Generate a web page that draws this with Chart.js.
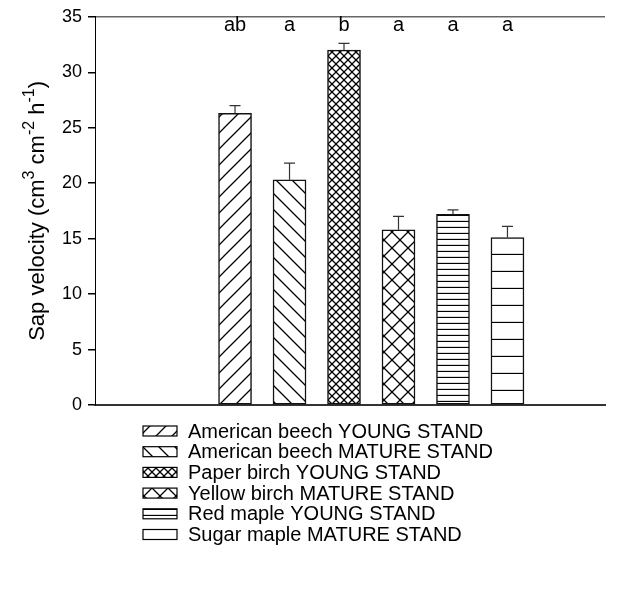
<!DOCTYPE html>
<html>
<head>
<meta charset="utf-8">
<script src="https://cdn.jsdelivr.net/npm/chart.js@4/dist/chart.umd.min.js"></script>
<style>
  html, body { margin: 0; padding: 0; background: #fff; }
  #wrap { width: 635px; height: 605px; position: relative; }
</style>
</head>
<body>
<div id="wrap"><canvas id="sapChart"></canvas></div>
<script>
// data
const species = [
  "American beech YOUNG STAND",
  "American beech MATURE STAND",
  "Paper birch YOUNG STAND",
  "Yellow birch MATURE STAND",
  "Red maple YOUNG STAND",
  "Sugar maple MATURE STAND"
];
const barPos = [1, 2, 3, 4, 5, 6];
const sapVelocity = [26.3, 20.3, 32.0, 15.8, 17.2, 15.1];
const stdErr = [0.7, 1.5, 0.6, 1.2, 0.4, 1.0];
const letters = ["ab", "a", "b", "a", "a", "a"];
const yTicks = [0, 5, 10, 15, 20, 25, 30, 35];

const FONT = "Arial, 'Liberation Sans', sans-serif";

// hatch fills
const makePattern = (size, draw) => {
  let c = document.createElement("canvas");
  c.width = size;
  c.height = size;
  let g = c.getContext("2d");
  g.fillStyle = "#fff";
  g.fillRect(0, 0, size, size);
  g.strokeStyle = "#000";
  g.lineWidth = 1.3;
  draw(g, size);
  return document.createElement("canvas").getContext("2d").createPattern(c, "repeat");
};

const fwd = (g, s) => {
  g.beginPath();
  g.moveTo(-1, s + 1); g.lineTo(s + 1, -1);
  g.moveTo(-s / 2, s / 2); g.lineTo(s / 2, -s / 2);
  g.moveTo(s / 2, s * 1.5); g.lineTo(s * 1.5, s / 2);
  g.stroke();
};
const back = (g, s) => {
  g.beginPath();
  g.moveTo(-1, -1); g.lineTo(s + 1, s + 1);
  g.moveTo(-s / 2, s / 2); g.lineTo(s / 2, s * 1.5);
  g.moveTo(s / 2, -s / 2); g.lineTo(s * 1.5, s / 2);
  g.stroke();
};
const cross = (g, s) => { fwd(g, s); back(g, s); };
const horiz = (g, s) => {
  g.beginPath();
  g.moveTo(0, s - 0.5); g.lineTo(s, s - 0.5);
  g.stroke();
};

const fills = [
  makePattern(16, fwd),
  makePattern(16, back),
  makePattern(8, cross),
  makePattern(16, cross),
  makePattern(6, horiz),
  makePattern(17, horiz)
];

const barData = barPos.map((x, i) => ({ x: x, y: sapVelocity[i] }));

// error bars (upper only) and significance letters
const errorBars = {
  id: "errorBars",
  afterDatasetsDraw(chart) {
    let ctx = chart.ctx;
    let xs = chart.scales.x, ys = chart.scales.y;
    ctx.save();
    ctx.strokeStyle = "#333";
    ctx.lineWidth = 1.2;
    sapVelocity.forEach((v, i) => {
      let px = xs.getPixelForValue(barPos[i]);
      let top = ys.getPixelForValue(v);
      let hi = ys.getPixelForValue(v + stdErr[i]);
      ctx.beginPath();
      ctx.moveTo(px, top);
      ctx.lineTo(px, hi);
      ctx.moveTo(px - 5.5, hi);
      ctx.lineTo(px + 5.5, hi);
      ctx.stroke();
    });
    ctx.fillStyle = "#000";
    ctx.font = "20px " + FONT;
    ctx.textAlign = "center";
    ctx.textBaseline = "middle";
    letters.forEach((t, i) => {
      ctx.fillText(t, xs.getPixelForValue(barPos[i]), ys.getPixelForValue(34.2));
    });
    ctx.restore();
  }
};

// y title with superscripts
const yTitle = {
  id: "yTitle",
  afterDraw(chart) {
    let ctx = chart.ctx;
    let ys = chart.scales.y;
    let parts = [
      ["Sap velocity (cm", 0],
      ["3", 1],
      [" cm", 0],
      ["-2", 1],
      [" h", 0],
      ["-1", 1],
      [")", 0]
    ];
    let big = "22px " + FONT, small = "16px " + FONT;
    ctx.save();
    let w = 0;
    parts.forEach((p) => {
      ctx.font = p[1] ? small : big;
      w += ctx.measureText(p[0]).width;
    });
    ctx.translate(44, (ys.top + ys.bottom) / 2);
    ctx.rotate(-Math.PI / 2);
    ctx.fillStyle = "#000";
    ctx.textBaseline = "alphabetic";
    let x = -w / 2;
    parts.forEach((p) => {
      ctx.font = p[1] ? small : big;
      ctx.fillText(p[0], x, p[1] ? -10 : 0);
      x += ctx.measureText(p[0]).width;
    });
    ctx.restore();
  }
};

// legend with hatch swatches, stacked
const hatchLegend = {
  id: "hatchLegend",
  afterDraw(chart) {
    let ctx = chart.ctx;
    ctx.save();
    ctx.font = "20px " + FONT;
    ctx.textBaseline = "middle";
    species.forEach((name, i) => {
      let y = 431 + i * 20.7;
      ctx.fillStyle = fills[i];
      ctx.fillRect(143, y - 5, 34, 10);
      ctx.strokeStyle = "#000";
      ctx.lineWidth = 1.2;
      ctx.strokeRect(143, y - 5, 34, 10);
      ctx.fillStyle = "#000";
      ctx.fillText(name, 188, y + 1);
    });
    ctx.restore();
  }
};

new Chart(document.getElementById("sapChart").getContext("2d"), {
  type: "bar",
  data: {
    datasets: [
      {
        label: "Sap velocity",
        data: barData,
        backgroundColor: fills,
        borderColor: "#111",
        borderWidth: 1.5,
        borderSkipped: false,
        barThickness: 33
      }
    ]
  },
  options: {
    responsive: true,
    maintainAspectRatio: false,
    animation: false,
    layout: {
      padding: { top: 13, right: 30, bottom: 200, left: 0 }
    },
    scales: {
      x: {
        type: "linear",
        offset: false,
        min: -1.57,
        max: 7.79,
        grid: { display: false, drawTicks: false, offset: false },
        ticks: { display: false },
        border: { color: "#333", width: 2 }
      },
      y: {
        min: 0,
        max: 35,
        afterFit: (s) => { s.width = 95; },
        afterBuildTicks: (s) => { s.ticks = yTicks.map((v) => ({ value: v })); },
        ticks: {
          color: "#000",
          padding: 6,
          font: { family: FONT, size: 18 }
        },
        grid: {
          color: (c) => (c.tick && c.tick.value === 35 ? "#666" : "rgba(0,0,0,0)"),
          tickColor: "#000",
          tickLength: 7,
          lineWidth: 1.5
        },
        border: { color: "#000", width: 1 }
      }
    },
    plugins: {
      legend: { display: false },
      tooltip: { enabled: false }
    }
  },
  plugins: [errorBars, yTitle, hatchLegend]
});
</script>
</body>
</html>
